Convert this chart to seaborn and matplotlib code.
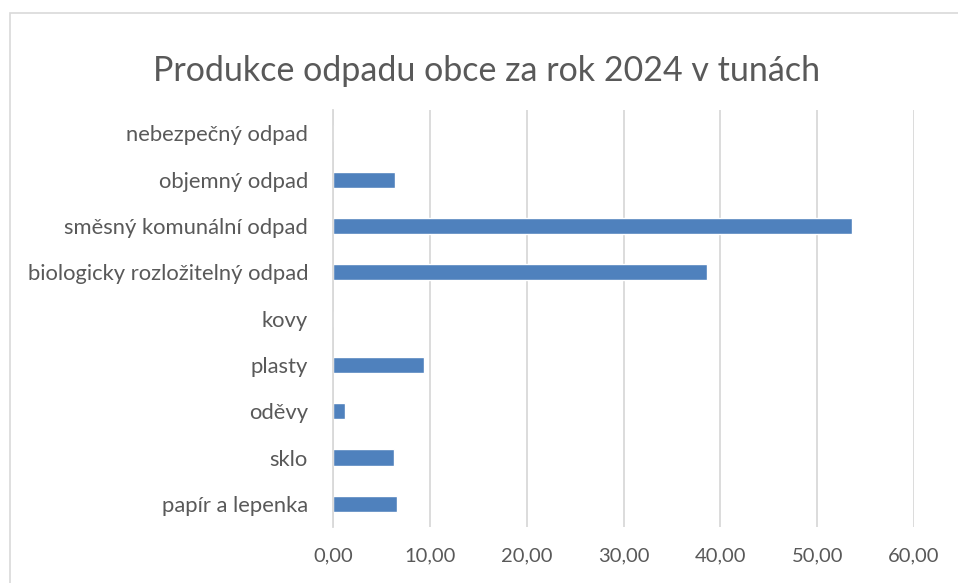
import pandas as pd
import matplotlib
matplotlib.use("Agg")
import matplotlib.pyplot as plt
import seaborn as sns
from matplotlib.ticker import FuncFormatter

categories = [
    "nebezpečný odpad",
    "objemný odpad",
    "směsný komunální odpad",
    "biologicky rozložitelný odpad",
    "kovy",
    "plasty",
    "oděvy",
    "sklo",
    "papír a lepenka",
]
tons = [0.12, 6.4, 53.6, 38.6, 0.0, 9.35, 1.27, 6.3, 6.6]
x_ticks = [0, 10, 20, 30, 40, 50, 60]

df = pd.DataFrame({"Kategorie": categories, "Tuny": tons})

sns.set_theme(style="white")
plt.rcParams["font.family"] = ["Lato", "DejaVu Sans"]

TEXT = "#595959"
GRID = "#d9d9d9"
BAR = "#4f81bd"

fig = plt.figure(figsize=(9.58, 5.83), dpi=100)
ax = fig.add_axes([0.3476, 0.096, 0.6065, 0.715])

sns.barplot(data=df, x="Tuny", y="Kategorie", orient="h", color=BAR,
            width=0.35, saturation=1, ax=ax)

ax.set_xlim(0, 60)
ax.set_xticks(x_ticks)
ax.xaxis.set_major_formatter(FuncFormatter(lambda v, p: f"{v:.2f}".replace(".", ",")))
ax.grid(axis="x", color=GRID, linewidth=1.3)
ax.set_axisbelow(True)
for s in ["top", "right", "bottom"]:
    ax.spines[s].set_visible(False)
ax.spines["left"].set_color(GRID)
ax.spines["left"].set_linewidth(1.3)
ax.tick_params(axis="both", length=0, colors=TEXT)
ax.tick_params(axis="x", labelsize=14.5, pad=15)
ax.tick_params(axis="y", labelsize=15.8, pad=18)
ax.set_xlabel("")
ax.set_ylabel("")

fig.suptitle("Produkce odpadu obce za rok 2024 v tunách", x=0.508, y=0.905,
             fontsize=24.5, color=TEXT)

# chart area border (cropped on the right and bottom like the original)
border = plt.Rectangle((10 / 958, -0.1), 1.2, 1 - 13 / 583 + 0.1, transform=fig.transFigure,
                       fill=False, edgecolor=GRID, linewidth=1.2)
fig.add_artist(border)

fig.savefig("out.png", dpi=100)
